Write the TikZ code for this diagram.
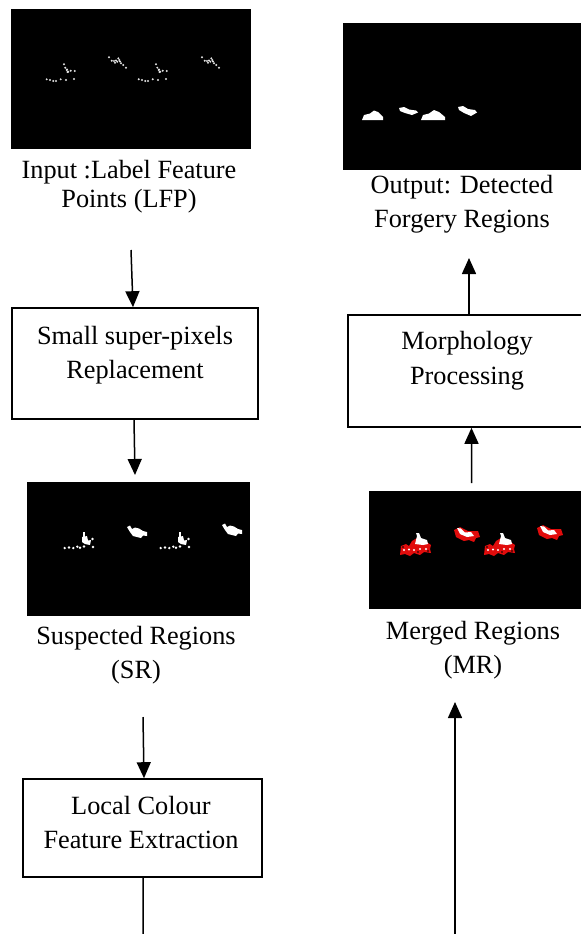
\documentclass[tikz,border=0pt]{standalone}
\usepackage{fontspec}
\setmainfont{Liberation Serif}
\usetikzlibrary{arrows.meta,calc}
\definecolor{mrred}{RGB}{225,12,12}
\definecolor{dotgray}{RGB}{225,225,225}
\begin{document}
\begin{tikzpicture}[x=1bp,y=-1bp,
  txt/.style={font=\fontsize{26.4}{35}\selectfont, align=center, inner sep=0pt},
  txtb/.style={font=\fontsize{26.4}{30}\selectfont, align=center, inner sep=0pt},
  procbox/.style={draw=black, line width=1.6bp, fill=white, inner sep=0pt},
  photo/.style={fill=black, draw=none, inner sep=0pt},
  arr/.style={line width=1.5bp, -{Triangle[length=16bp,width=14bp]}},
  plainline/.style={line width=1.5bp},
  lfpdot/.style={fill=dotgray},
  blob/.style={fill=white},
  redblob/.style={fill=mrred}]
\useasboundingbox (0,0) rectangle (581,934);

% ---------- pictures ----------
\node[photo, minimum width=240bp, minimum height=140bp] (lfp) at (131,79) {};
\node[photo, minimum width=257bp, minimum height=147bp] (out) at (471.5,96.5) {};
\node[photo, minimum width=223bp, minimum height=134bp] (sr) at (138.5,549) {};
\node[photo, minimum width=231bp, minimum height=118bp] (mr) at (484.5,550) {};

% LFP dots
\foreach \dx in {0,92}{
  \begin{scope}[xshift=\dx bp]
  \foreach \p in {(46.7,79.3),(50,80),(53.3,81),(56,81),(60.7,79.3),(66,80),(74,79),
                  (64,64.3),(65.3,67.7),(66.7,70),(68.3,71.7),(70.7,70.7),(74.7,71),(67,69.5),(67.5,72)}
    \fill[lfpdot] \p circle (1.1bp);
  \end{scope}}
\foreach \dx in {0,93}{
  \begin{scope}[xshift=\dx bp]
  \foreach \p in {(109,57.3),(111.7,60.7),(115,62.7),(117.3,61.7),(119.3,60),(121,63.3),
                  (123.3,65),(126,67.7),(118.3,58.3),(116,60.5),(114,61),(120,61.5)}
    \fill[lfpdot] \p circle (1.1bp);
  \end{scope}}

% Output blobs
\fill[blob] (362,120) -- (364,115) -- (370,113.5) -- (374,110.5) -- (378,112) -- (383,117) -- (383,120) -- cycle;
\fill[blob] (421,120) -- (423,115) -- (429,113.5) -- (434,110) -- (439,112) -- (445,117) -- (445,120) -- cycle;
\fill[blob] (399,108) -- (404,107) -- (409,109.5) -- (416,110.5) -- (418,112.5) -- (412,115) -- (405,113) -- (400,111) -- cycle;
\fill[blob] (458,107) -- (463,106) -- (468,109) -- (475,110) -- (477,112.5) -- (471,116) -- (464,113) -- (459,110) -- cycle;

% SR blobs
\foreach \dx in {0,96}{
  \begin{scope}[xshift=\dx bp]
  \foreach \p in {(64.7,548),(69,547.5),(73.3,548),(77.3,546.7),(80,547.7),(84,546.5),(93,547),(92.5,539)}
    \fill[blob] \p circle (1.3bp);
  \fill[blob] (82.6,532) rectangle (84.6,537);
  \fill[blob] (82,537) -- (87,536) -- (88,540.5) -- (91,540) -- (90,545) -- (85,544) -- (82,542) -- cycle;
  \end{scope}}
\foreach \dx/\dy in {0/0,95/-2}{
  \begin{scope}[xshift=\dx bp, yshift=-\dy bp]
  \fill[blob] (127,527) -- (130,525.5) -- (132,529) -- (135,527.5) -- (139,528.5) -- (143,531) -- (147,532)
     -- (147,536) -- (143,535.5) -- (141,538) -- (137,537) -- (133,536) -- (130,532) -- cycle;
  \end{scope}}

% MR blobs
\foreach \dx in {0,84}{
  \begin{scope}[xshift=\dx bp]
  \fill[redblob] (400,555) -- (401,546) -- (406,544) -- (409,546) -- (412,541) -- (417,538) -- (424,540) -- (431,545)
     -- (430,549) -- (431,553) -- (424,552) -- (420,555) -- (414,553) -- (410,556) -- (405,554) -- cycle;
  \fill[blob] (415,544) -- (417,536) -- (416,533) -- (419,533) -- (421,538) -- (427,540) -- (428,544) -- (423,545) -- cycle;
  \foreach \p in {(404,550),(409,549.5),(414,550),(420,549),(426,549)}
    \fill[blob] \p circle (1.1bp);
  \foreach \p in {(403,547),(418,552),(428,551)}
    \fill[black] \p circle (0.9bp);
  \end{scope}}
\foreach \dx/\dy in {0/0,83/-2}{
  \begin{scope}[xshift=\dx bp, yshift=-\dy bp]
  \fill[redblob] (454,530) -- (460,527) -- (468,531) -- (478,531) -- (480,537) -- (476,538) -- (474,542) -- (469,540) -- (464,541) -- (456,537) -- cycle;
  \fill[blob] (457,528) -- (461,528.5) -- (465,532.5) -- (471,532) -- (474,536) -- (467,537) -- (460,534) -- cycle;
  \end{scope}}

% ---------- process boxes ----------
\node[procbox, minimum width=246bp, minimum height=111bp] (b1) at (135,363.5) {};
\node[procbox, minimum width=244bp, minimum height=112bp] (b2) at (470,371) {};
\node[procbox, minimum width=239bp, minimum height=98bp] (b3) at (142.5,828) {};

% ---------- texts ----------
\node[txtb] (t1) at (129,187) {\strut Input :Label Feature\\Points (LFP)\strut};
\node[txt] (t2) at (462,203.5) {\strut Output: Detected\\Forgery Regions\strut};
\node[txt] (t3) at (135,354.5) {\strut Small super-pixels\\Replacement\strut};
\node[txt] (t4) at (467,360) {\strut Morphology\\Processing\strut};
\node[txt] (t5) at (136,654.5) {\strut Suspected Regions\\(SR)\strut};
\node[txt] (t6) at (473,649.5) {\strut Merged Regions\\(MR)\strut};
\node[txt] (t7) at (141,824.5) {\strut Local Colour\\Feature Extraction\strut};

% ---------- connectors ----------
\coordinate (c1) at (131,250);
\draw[arr] (c1) -- ([xshift=-2bp]b1.north);
\coordinate (c2) at (135,475);
\draw[arr] ([xshift=-1bp]b1.south) -- (c2);
\coordinate (c3) at (143,717);
\draw[arr] (c3) -- ([xshift=1.5bp]b3.north);
\coordinate (c4) at (143,940);
\draw[plainline] ([xshift=0.5bp]b3.south) -- (c4);
\coordinate (c5) at (455,940);
\coordinate (c6) at (455,702);
\draw[arr] (c5) -- (c6);
\coordinate (c7) at (471.5,483);
\draw[arr] (c7) -- ([xshift=1.5bp]b2.south);
\coordinate (c8) at (469,258);
\draw[arr] ([xshift=-1bp]b2.north) -- (c8);
\end{tikzpicture}
\end{document}
